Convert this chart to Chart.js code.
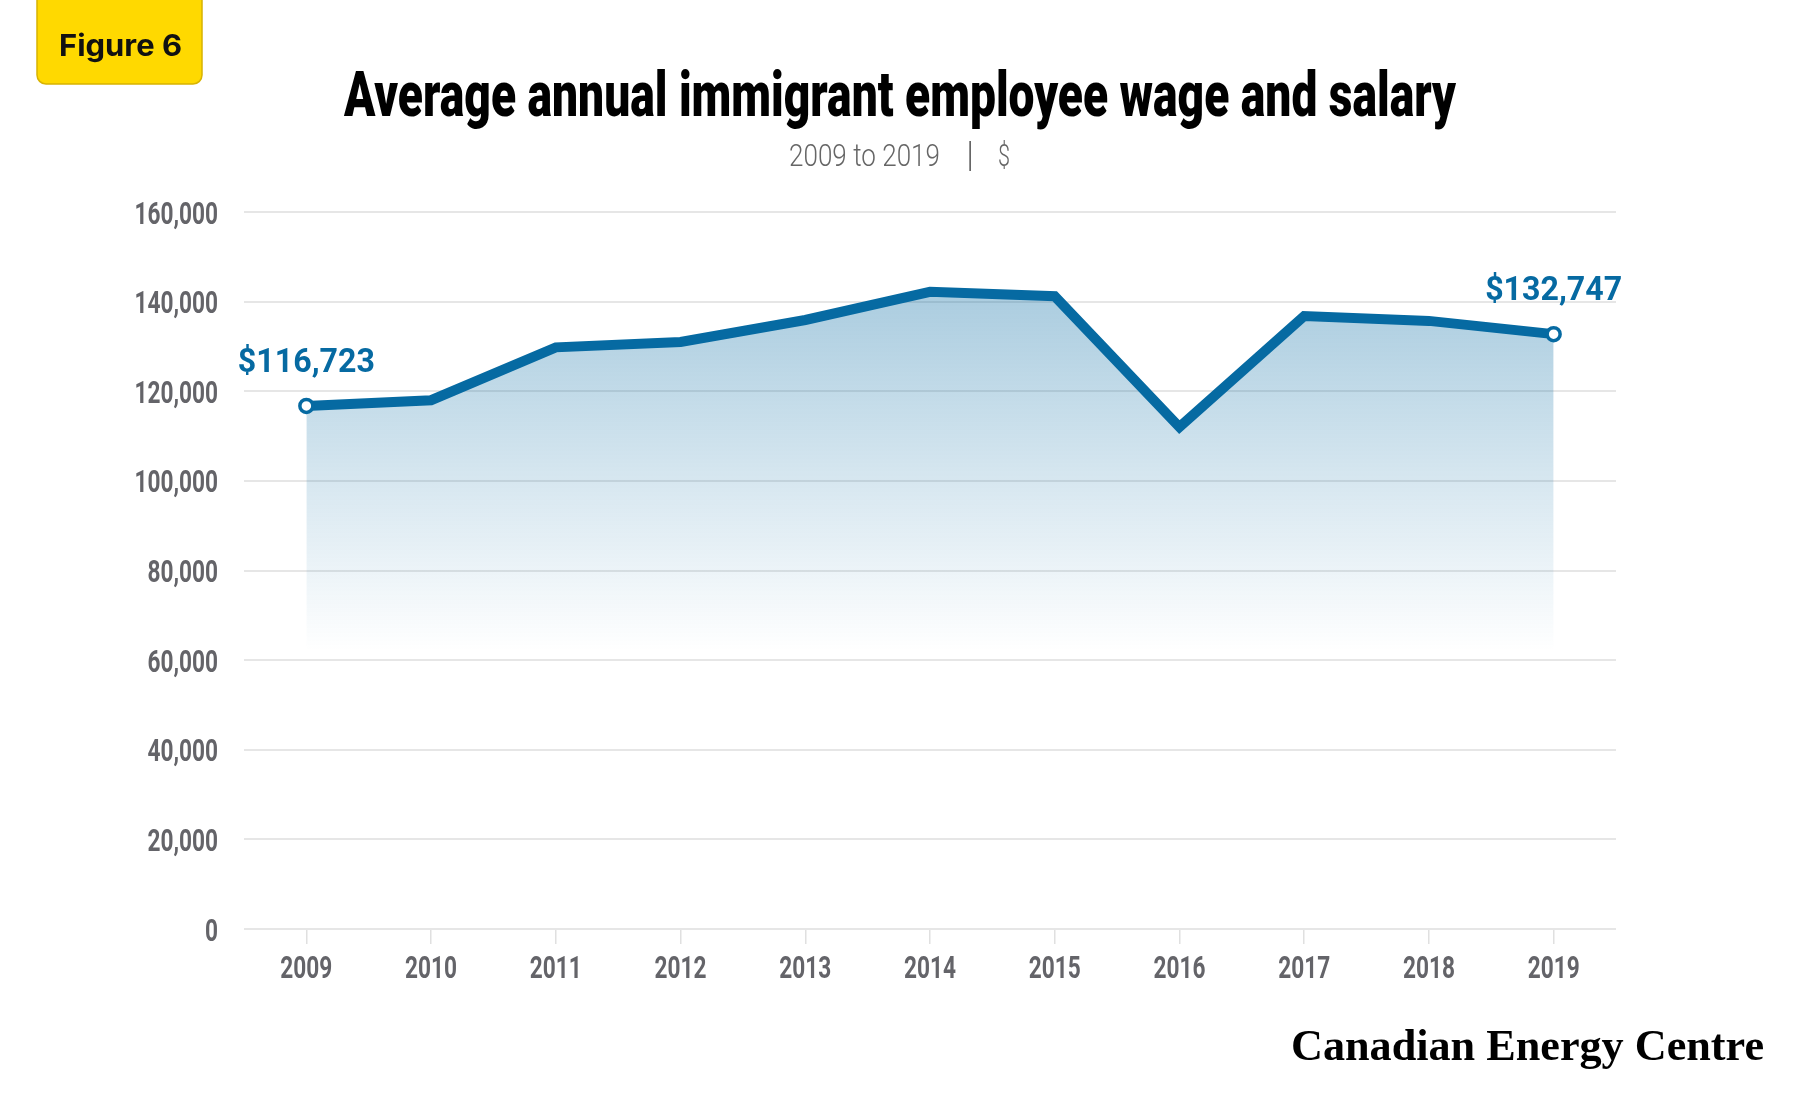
<!DOCTYPE html>
<html>
<head>
<meta charset="utf-8">
<script src="https://cdn.jsdelivr.net/npm/chart.js@4.4.1/dist/chart.umd.min.js"></script>
<style>
  html, body { margin: 0; padding: 0; background: #ffffff; }
  #wrap { position: relative; width: 1800px; height: 1100px; overflow: hidden; }
  #chartBox { position: absolute; left: 0; top: 0; width: 1800px; height: 1100px; }
  #overlay { position: absolute; left: 0; top: 0; pointer-events: none; }
</style>
</head>
<body>
<div id="wrap">
  <div id="chartBox"><canvas id="chart"></canvas></div>
  <svg id="overlay" width="1800" height="1100" viewBox="0 0 1800 1100" xmlns="http://www.w3.org/2000/svg">
    <rect x="37" y="-12" width="165" height="96" rx="9" ry="9" fill="#FFD900" stroke="#D8B300" stroke-width="1.5"/>
    <text x="59" y="56" font-family="Inter, Roboto, sans-serif" font-weight="700" font-size="30" fill="#111111" textLength="123" lengthAdjust="spacingAndGlyphs">Figure 6</text>
    <text x="344" y="116" font-family="Roboto, sans-serif" font-weight="900" font-size="63" fill="#000000" textLength="1112" lengthAdjust="spacingAndGlyphs">Average annual immigrant employee wage and salary</text>
    <text x="789" y="166" font-family="Roboto, sans-serif" font-weight="300" font-size="32" fill="#666666" textLength="151" lengthAdjust="spacingAndGlyphs">2009 to 2019</text>
    <text x="970" y="166" text-anchor="middle" font-family="Roboto, sans-serif" font-weight="300" font-size="35" fill="#666666">|</text>
    <text x="998" y="166" font-family="Roboto, sans-serif" font-weight="300" font-size="32" fill="#666666" textLength="12" lengthAdjust="spacingAndGlyphs">$</text>
    <text x="1291" y="1060" font-family="'Liberation Serif', 'DejaVu Serif', serif" font-weight="700" font-size="45" fill="#000000" textLength="473" lengthAdjust="spacingAndGlyphs">Canadian Energy Centre</text>
  </svg>
</div>
<script>
// ---- data ----
const categories = ['2009','2010','2011','2012','2013','2014','2015','2016','2017','2018','2019'];
const wages = [116723, 118000, 129800, 131000, 135900, 142200, 141200, 112000, 136800, 135700, 132747];
const yTickValues = [0, 20000, 40000, 60000, 80000, 100000, 120000, 140000, 160000];
const calloutIndex = [0, 10];
const calloutText = ['$116,723', '$132,747'];

// ---- style ----
const lineColor = '#066aa2';
const tickColor = '#646469';
const fadeValue = 62000;

function drawScaled(c, text, x, y, sx, align) {
  c.save();
  c.translate(x, y);
  c.scale(sx, 1);
  c.textAlign = align;
  c.textBaseline = 'alphabetic';
  c.fillText(text, 0, 0);
  c.restore();
}

const textPlugin = {
  id: 'customText',
  afterDraw(chart) {
    const c = chart.ctx;
    const xs = chart.scales.x, ys = chart.scales.y;
    c.save();
    c.font = '700 32px Roboto, sans-serif';
    c.fillStyle = tickColor;
    const sx = 52 / c.measureText('2009').width;
    ys.ticks.forEach((t, i) => {
      const y = ys.getPixelForTick(i);
      drawScaled(c, t.value.toLocaleString('en-US'), 218, y + 11.5, sx, 'right');
    });
    const base = ys.getPixelForValue(0);
    xs.ticks.forEach((t, i) => {
      const x = xs.getPixelForTick(i);
      drawScaled(c, categories[i], x, base + 49, sx, 'center');
    });
    c.font = '700 33px Roboto, sans-serif';
    c.fillStyle = lineColor;
    const meta = chart.getDatasetMeta(0);
    const sl = 137 / c.measureText(calloutText[0]).width;
    calloutIndex.forEach((idx, k) => {
      const p = meta.data[idx];
      drawScaled(c, calloutText[k], p.x, p.y - 34, sl, 'center');
    });
    c.restore();
  }
};

new Chart(document.getElementById('chart'), {
  type: 'line',
  data: {
    labels: categories,
    datasets: [{
      data: wages,
      borderColor: lineColor,
      borderWidth: 10,
      borderJoinStyle: 'miter',
      tension: 0,
      fill: 'origin',
      backgroundColor: (ctx) => {
        const chart = ctx.chart;
        const area = chart.chartArea;
        if (!area) return 'rgba(6,106,162,0.2)';
        const ys = chart.scales.y;
        const top = ys.getPixelForValue(Math.max(...wages));
        const bot = ys.getPixelForValue(fadeValue);
        const g = chart.ctx.createLinearGradient(0, top, 0, bot);
        g.addColorStop(0, 'rgba(6,106,162,0.34)');
        g.addColorStop(1, 'rgba(6,106,162,0)');
        return g;
      },
      pointRadius: (ctx) => calloutIndex.includes(ctx.dataIndex) ? 6.5 : 0,
      pointHoverRadius: 0,
      pointBorderWidth: 3.5,
      pointBackgroundColor: '#ffffff',
      pointBorderColor: lineColor
    }]
  },
  options: {
    responsive: true,
    maintainAspectRatio: false,
    animation: false,
    devicePixelRatio: 1,
    layout: { padding: { left: 0, right: 184, top: 212, bottom: 0 } },
    plugins: { legend: { display: false }, tooltip: { enabled: false }, title: { display: false } },
    scales: {
      x: {
        type: 'category',
        offset: true,
        grid: { drawOnChartArea: false, drawTicks: true, tickLength: 15, offset: false, color: '#e0e0e0', lineWidth: 1.5 },
        border: { display: false },
        ticks: { display: false },
        afterFit: (s) => { s.height = 171; }
      },
      y: {
        min: 0,
        max: 160000,
        afterBuildTicks: (s) => { s.ticks = yTickValues.map(v => ({ value: v })); },
        grid: { drawTicks: false, color: '#e6e6e6', lineWidth: 2 },
        border: { display: false },
        ticks: { display: false },
        afterFit: (s) => { s.width = 244; }
      }
    }
  },
  plugins: [textPlugin]
});
</script>
</body>
</html>
